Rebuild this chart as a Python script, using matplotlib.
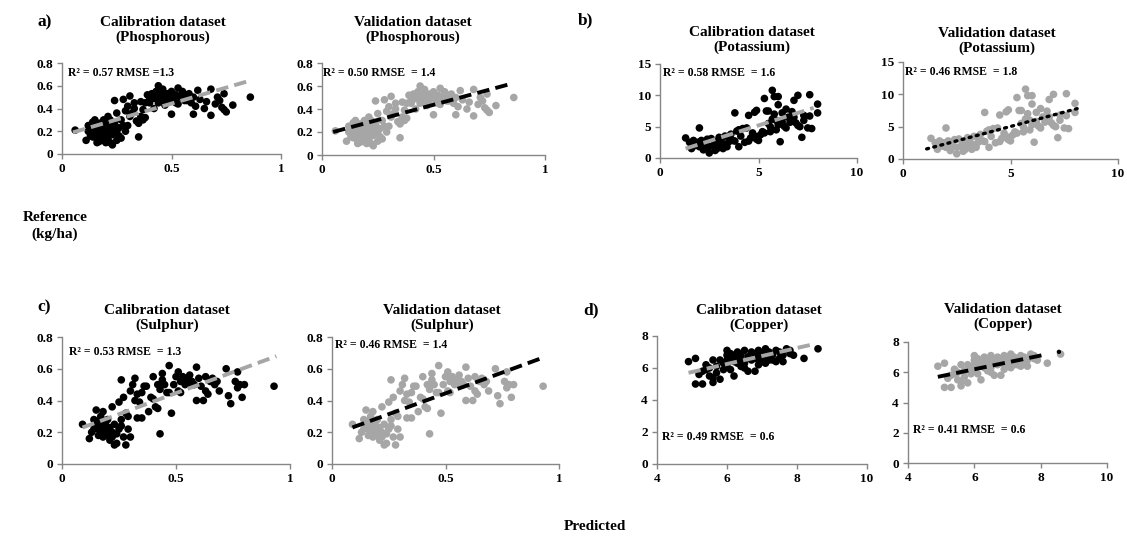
import matplotlib
matplotlib.use("Agg")
import matplotlib.pyplot as plt
import numpy as np

plt.rcParams['font.family'] = ['Liberation Serif', 'DejaVu Serif']

# ---------------- data ----------------
p_x = [0.06,0.11,0.12,0.13,0.13,0.14,0.14,0.15,0.15,0.16,0.16,0.17,0.17,0.18,0.18,0.19,0.19,0.20,0.20,0.21,
       0.21,0.22,0.22,0.23,0.23,0.24,0.24,0.25,0.25,0.26,0.26,0.27,0.27,0.28,0.28,0.29,0.30,0.30,0.31,0.32,
       0.33,0.34,0.35,0.35,0.36,0.36,0.37,0.37,0.38,0.39,0.40,0.41,0.42,0.43,0.44,0.44,0.45,0.46,0.46,0.47,
       0.48,0.49,0.50,0.50,0.51,0.52,0.53,0.54,0.55,0.56,0.57,0.58,0.59,0.60,0.60,0.61,0.62,0.63,0.65,0.66,
       0.68,0.68,0.70,0.71,0.72,0.73,0.74,0.74,0.75,0.78,0.86,
       0.12,0.14,0.16,0.18,0.19,0.20,0.21,0.22,0.23,0.25,0.15,0.17,0.13,0.29,0.31,0.33,0.38,0.40,0.42,0.43,
       0.45,0.47,0.48,0.52,0.55,0.57,0.53,0.58]
p_y = [0.21,0.12,0.25,0.22,0.18,0.28,0.15,0.20,0.24,0.13,0.10,0.19,0.27,0.16,0.22,0.12,0.30,0.18,0.25,0.14,
       0.33,0.10,0.21,0.08,0.17,0.27,0.47,0.36,0.20,0.23,0.16,0.14,0.30,0.48,0.25,0.38,0.42,0.25,0.51,0.36,
       0.45,0.29,0.15,0.27,0.46,0.33,0.39,0.30,0.45,0.52,0.48,0.53,0.49,0.55,0.60,0.45,0.52,0.57,0.47,0.43,
       0.53,0.50,0.35,0.55,0.48,0.52,0.58,0.50,0.55,0.47,0.52,0.49,0.45,0.35,0.50,0.42,0.56,0.48,0.40,0.46,
       0.34,0.57,0.44,0.50,0.47,0.41,0.53,0.39,0.37,0.43,0.50,
       0.20,0.21,0.17,0.25,0.20,0.10,0.28,0.30,0.24,0.12,0.30,0.11,0.16,0.20,0.33,0.40,0.32,0.45,0.40,0.51,
       0.49,0.52,0.46,0.45,0.52,0.47,0.44,0.53]

k_x = [1.3,1.5,1.6,1.7,1.8,2.0,2.0,2.1,2.2,2.3,2.4,2.5,2.5,2.6,2.7,2.8,2.9,3.0,3.0,3.1,
       3.2,3.3,3.3,3.4,3.5,3.6,3.8,3.8,3.9,4.0,4.1,4.2,4.3,4.4,4.5,4.5,4.6,4.7,4.8,4.9,
       4.9,5.0,5.1,5.2,5.3,5.4,5.5,5.6,5.6,5.7,5.7,5.8,5.8,5.9,6.0,6.0,6.0,6.1,6.2,6.3,
       6.4,6.4,6.5,6.6,6.7,6.8,6.9,7.0,7.1,7.2,7.3,7.3,7.5,7.6,7.6,7.7,8.0,8.0,5.5,4.0,
       3.5,3.1,2.8,1.9,2.2,3.7,4.8,5.3,5.9,6.2,6.8,7.0]
k_y = [3.2,2.5,1.5,2.8,2.0,4.8,1.8,2.8,1.3,2.3,3.0,0.8,1.8,3.1,2.0,2.6,1.5,3.3,2.0,2.5,
       1.5,3.5,2.2,1.8,2.6,3.8,7.2,2.7,4.3,1.8,3.5,4.7,2.5,4.8,6.8,2.7,3.2,4.0,7.3,7.6,
       3.0,2.8,3.7,4.2,9.5,7.5,5.5,5.0,4.2,10.8,6.2,9.8,7.0,4.5,9.8,8.5,5.3,2.6,7.2,5.1,
       7.8,4.8,6.5,5.7,7.4,9.2,5.6,10.0,5.0,3.3,6.0,6.8,4.8,10.1,6.7,4.7,8.6,7.2,7.5,4.5,
       3.5,3.0,1.2,2.5,2.0,2.8,3.5,4.0,6.0,5.8,6.5,5.2]

s_x = [0.09,0.12,0.13,0.14,0.15,0.15,0.16,0.16,0.17,0.17,0.18,0.18,0.19,0.19,0.20,0.20,0.21,0.21,0.22,0.22,
       0.23,0.23,0.24,0.24,0.25,0.25,0.26,0.26,0.27,0.27,0.28,0.28,0.29,0.29,0.30,0.30,0.31,0.32,0.32,0.33,
       0.33,0.34,0.35,0.36,0.37,0.38,0.39,0.40,0.41,0.42,0.42,0.43,0.43,0.44,0.44,0.45,0.46,0.47,0.48,0.49,
       0.50,0.51,0.52,0.52,0.53,0.54,0.55,0.56,0.57,0.58,0.59,0.59,0.60,0.61,0.62,0.63,0.63,0.64,0.65,0.66,
       0.67,0.68,0.69,0.72,0.73,0.74,0.76,0.77,0.77,0.78,0.79,0.80,0.93,0.18,0.20,0.22,0.26,0.14,0.16,0.35,
       0.40,0.47,0.56,0.51]
s_y = [0.25,0.16,0.20,0.28,0.34,0.25,0.22,0.18,0.30,0.20,0.33,0.17,0.25,0.21,0.28,0.18,0.23,0.15,0.36,0.20,
       0.12,0.25,0.13,0.19,0.22,0.39,0.53,0.28,0.17,0.42,0.32,0.12,0.22,0.30,0.17,0.46,0.50,0.54,0.40,0.29,
       0.44,0.39,0.45,0.49,0.49,0.33,0.42,0.55,0.36,0.50,0.35,0.19,0.47,0.57,0.53,0.50,0.45,0.62,0.32,0.50,
       0.55,0.58,0.52,0.45,0.55,0.50,0.53,0.56,0.52,0.50,0.61,0.40,0.54,0.49,0.40,0.55,0.46,0.44,0.52,0.54,
       0.50,0.52,0.46,0.60,0.43,0.38,0.52,0.58,0.48,0.50,0.42,0.50,0.49,0.24,0.22,0.17,0.24,0.22,0.27,0.29,
       0.41,0.45,0.50,0.46]

cu_x = [4.9,5.1,5.1,5.2,5.3,5.3,5.4,5.5,5.5,5.6,5.6,5.7,5.7,5.8,5.8,5.9,5.9,6.0,6.0,6.0,
        6.1,6.1,6.1,6.2,6.2,6.3,6.3,6.4,6.4,6.5,6.5,6.6,6.6,6.7,6.7,6.8,6.8,6.9,6.9,7.0,
        7.0,7.1,7.1,7.2,7.2,7.3,7.4,7.4,7.5,7.5,7.6,7.7,7.8,7.9,8.2,8.6,5.4,5.6,6.0,6.2,
        6.5,6.4,6.8,7.1,7.3,7.6,7.8,6.3,6.9]
cu_y = [6.4,6.6,5.0,5.6,5.0,5.8,6.2,5.5,6.0,6.5,5.1,5.7,6.1,6.5,5.3,5.9,6.3,6.8,7.1,6.2,
        6.6,5.9,6.9,5.5,6.4,7.0,6.6,6.8,6.1,7.1,6.3,6.7,5.8,7.0,6.5,5.8,6.9,6.6,7.1,6.4,
        6.9,7.2,6.7,6.5,7.0,6.8,6.4,7.1,6.6,7.0,6.8,7.2,6.9,6.8,6.6,7.2,5.9,5.4,6.5,6.8,
        6.0,6.5,6.6,6.3,6.5,6.4,7.1,6.3,6.2]
cu_val_extra_x = [8.55]
cu_val_extra_y = [7.35]

# trend lines: (slope, intercept, x_start, x_end)
fits = {
    'p_cal': (0.5625, 0.162, 0.05, 0.85),
    'p_val': (0.525, 0.174, 0.05, 0.85),
    'k_cal': (1.0, 0.2, 1.3, 7.8),
    'k_val': (0.89, 0.58, 1.1, 8.1),
    's_cal': (0.529, 0.182, 0.09, 0.94),
    's_val': (0.524, 0.183, 0.09, 0.93),
    'cu_cal': (0.5, 3.25, 4.9, 8.5),
    'cu_val': (0.4545, 3.47, 4.9, 8.2),
}

titles = ['Calibration dataset\n(Phosphorous)', 'Validation dataset\n(Phosphorous)',
          'Calibration dataset\n(Potassium)', 'Validation dataset\n(Potassium)',
          'Calibration dataset\n(Sulphur)', 'Validation dataset\n(Sulphur)',
          'Calibration dataset\n(Copper)', 'Validation dataset\n(Copper)']
stats = ['R² = 0.57 RMSE =1.3', 'R² = 0.50 RMSE  = 1.4',
         'R² = 0.58 RMSE  = 1.6', 'R² = 0.46 RMSE  = 1.8',
         'R² = 0.53 RMSE  = 1.3', 'R² = 0.46 RMSE  = 1.4',
         'R² = 0.49 RMSE  = 0.6', 'R² = 0.41 RMSE  = 0.6']
panel_letters = ['a)', 'b)', 'c)', 'd)']

# ---------------- layout ----------------
W, H = 1127, 536
fig = plt.figure(figsize=(W / 100, H / 100), dpi=100)

def add_ax(l, r, t, b):
    return fig.add_axes([l / W, 1 - b / H, (r - l) / W, (b - t) / H])

BLACK = '#000000'
GRAY = '#a6a6a6'
SPINE = '#868686'

panels = [
    ((62, 281, 63, 154), (p_x, p_y), BLACK, 'p_cal', GRAY, 'dash', (0, 1), [0, 0.5, 1], (0, 0.8), [0, 0.2, 0.4, 0.6, 0.8]),
    ((322, 545, 63, 155), (p_x, p_y), GRAY, 'p_val', BLACK, 'dash', (0, 1), [0, 0.5, 1], (0, 0.8), [0, 0.2, 0.4, 0.6, 0.8]),
    ((660, 857, 64, 158), (k_x, k_y), BLACK, 'k_cal', GRAY, 'dash', (0, 10), [0, 5, 10], (0, 15), [0, 5, 10, 15]),
    ((903, 1118, 62, 159), (k_x, k_y), GRAY, 'k_val', BLACK, 'dot', (0, 10), [0, 5, 10], (0, 15), [0, 5, 10, 15]),
    ((62, 290, 337, 464), (s_x, s_y), BLACK, 's_cal', GRAY, 'dash', (0, 1), [0, 0.5, 1], (0, 0.8), [0, 0.2, 0.4, 0.6, 0.8]),
    ((332, 559, 337, 464), (s_x, s_y), GRAY, 's_val', BLACK, 'dash', (0, 1), [0, 0.5, 1], (0, 0.8), [0, 0.2, 0.4, 0.6, 0.8]),
    ((657, 867, 336, 464), (cu_x, cu_y), BLACK, 'cu_cal', GRAY, 'dash', (4, 10), [4, 6, 8, 10], (0, 8), [0, 2, 4, 6, 8]),
    ((908, 1107, 342, 463), (cu_x, cu_y), GRAY, 'cu_val', BLACK, 'dash', (4, 10), [4, 6, 8, 10], (0, 8), [0, 2, 4, 6, 8]),
]

def fmt(v):
    if float(v).is_integer():
        return str(int(v))
    return ('%g' % v)

axes = []
for (box, (xs, ys), col, fk, lcol, lsty, xl, xt, yl, yt) in panels:
    ax = add_ax(*box)
    axes.append(ax)
    ax.scatter(xs, ys, s=30, color=col, edgecolors='none', zorder=2)
    m, c, x0, x1 = fits[fk]
    fx = np.array([x0, x1])
    if lsty == 'dash':
        ax.plot(fx, m * fx + c, color=lcol, lw=2.8, dashes=(3.2, 1.6), zorder=3,
                solid_capstyle='butt', dash_capstyle='butt')
    else:
        ax.plot(fx, m * fx + c, color=lcol, lw=2.4, dashes=(0.6, 1.6), zorder=3,
                dash_capstyle='round')
    ax.set_xlim(*xl)
    ax.set_ylim(*yl)
    ax.set_xticks(xt)
    ax.set_yticks(yt)
    ax.set_xticklabels([fmt(v) for v in xt])
    ax.set_yticklabels([fmt(v) for v in yt])
    for sp in ['top', 'right']:
        ax.spines[sp].set_visible(False)
    for sp in ['left', 'bottom']:
        ax.spines[sp].set_color(SPINE)
        ax.spines[sp].set_linewidth(1.0)
    ax.tick_params(direction='out', length=3.5, width=1.0, color=SPINE, pad=3, labelsize=9.5)
    for lab in ax.get_xticklabels() + ax.get_yticklabels():
        lab.set_fontweight('bold')
    ax.patch.set_alpha(0)

# extra black point on copper validation
axes[7].scatter(cu_val_extra_x, cu_val_extra_y, s=10, color=BLACK, edgecolors='none', zorder=4)

def ftext(x, y, s, **kw):
    fig.text(x / W, 1 - y / H, s, **kw)

title_pos = [(163, 30), (413, 30), (752, 40), (997, 41), (167, 318), (442, 318), (759, 318), (1003, 317)]
for (x, y), t in zip(title_pos, titles):
    ftext(x, y, t, ha='center', va='center', fontsize=11, fontweight='bold', linespacing=1.15)

stat_pos = [(68, 73), (323, 73), (663, 73), (905, 72), (69, 352), (335, 345), (662, 437), (913, 430)]
for (x, y), t in zip(stat_pos, stats):
    ftext(x, y, t, ha='left', va='center', fontsize=8.5, fontweight='bold')

letter_pos = [(37, 22), (578, 20), (37, 307), (583, 310)]
for (x, y), t in zip(letter_pos, panel_letters):
    ftext(x, y, t, ha='left', va='center', fontsize=12.5, fontweight='bold')

ftext(55, 226, 'Reference\n(kg/ha)', ha='center', va='center', fontsize=11, fontweight='bold', linespacing=1.4)
ftext(595, 526, 'Predicted', ha='center', va='center', fontsize=11, fontweight='bold')

fig.savefig('out.png', dpi=100, facecolor='white')
